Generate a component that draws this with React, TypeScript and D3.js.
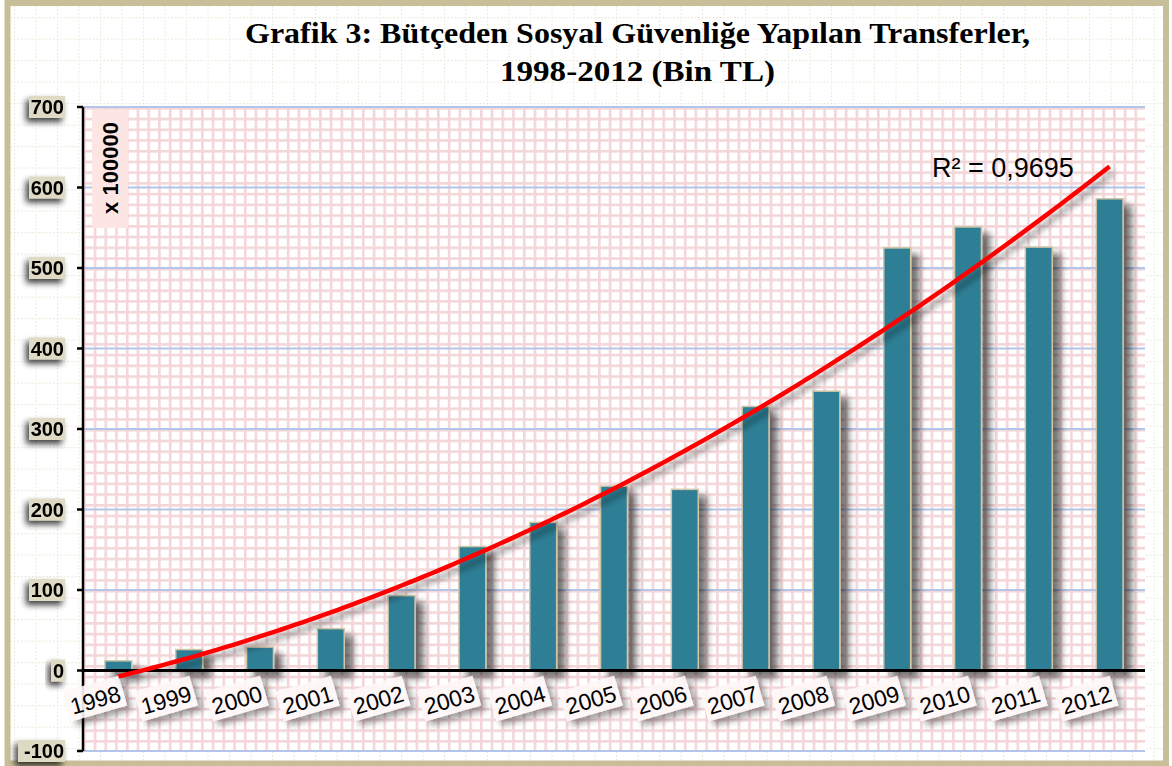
import * as d3 from "d3";

const years = ["1998", "1999", "2000", "2001", "2002", "2003", "2004", "2005", "2006", "2007", "2008", "2009", "2010", "2011", "2012"];
const transfers = [12, 26, 29, 52, 93, 154, 184, 229, 225, 328, 347, 525, 551, 526, 586];
const yTicks = [-100, 0, 100, 200, 300, 400, 500, 600, 700];
const titleLines = ["Grafik 3: Bütçeden Sosyal Güvenliğe Yapılan Transferler,", "1998-2012  (Bin TL)"];
const r2Label = "R² = 0,9695";
const unitLabel = "x 100000";

const W = 1172;
const H = 766;
const plot = { left: 83, right: 1145, top: 107, bottom: 751 };

// 2nd order least squares trend (like Excel's polynomial trendline)
function polyfit2(ys: number[]) {
  const s = [0, 0, 0, 0, 0];
  const t = [0, 0, 0];
  ys.forEach((v, i) => {
    const x = i + 1;
    for (let k = 0; k < 5; k++) s[k] += Math.pow(x, k);
    for (let k = 0; k < 3; k++) t[k] += v * Math.pow(x, k);
  });
  const m = [
    [s[0], s[1], s[2], t[0]],
    [s[1], s[2], s[3], t[1]],
    [s[2], s[3], s[4], t[2]],
  ];
  for (let i = 0; i < 3; i++) {
    for (let j = i + 1; j < 3; j++) {
      const f = m[j][i] / m[i][i];
      for (let k = i; k < 4; k++) m[j][k] -= f * m[i][k];
    }
  }
  const c = [0, 0, 0];
  for (let i = 2; i >= 0; i--) {
    let v = m[i][3];
    for (let k = i + 1; k < 3; k++) v -= m[i][k] * c[k];
    c[i] = v / m[i][i];
  }
  return (x: number) => c[0] + c[1] * x + c[2] * x * x;
}

export default function App() {
  const x = d3.scaleBand().domain(years).range([plot.left, plot.right]).paddingInner(0.62).paddingOuter(0.31);
  const y = d3.scaleLinear().domain([-100, 700]).range([plot.bottom, plot.top]);
  const trend = polyfit2(transfers);
  const xi = d3.scaleLinear().domain([1, years.length]).range([
    (x(years[0]) as number) + x.bandwidth() / 2,
    (x(years[years.length - 1]) as number) + x.bandwidth() / 2,
  ]);
  const pts = d3.range(1, years.length + 0.001, 0.1).map((t) => [xi(t), y(trend(t))] as [number, number]);
  const trendPath = d3.line()(pts) || "";

  return (
    <svg width={W} height={H} style={{ position: "absolute", left: 0, top: 0 }} fontFamily="'Liberation Sans', Arial, sans-serif">
      <defs>
        <pattern id="dots" x={14} y={17} width={21.5} height={21.5} patternUnits="userSpaceOnUse">
          <line x1={0} y1={0.5} x2={21.5} y2={0.5} stroke="#e4dfc9" strokeWidth={1.2} strokeDasharray="1.2,2.4" />
          <line x1={0.5} y1={0} x2={0.5} y2={21.5} stroke="#e4dfc9" strokeWidth={1.2} strokeDasharray="1.2,2.4" />
        </pattern>
        <pattern id="pink" x={plot.left} y={plot.top} width={10.73} height={10.73} patternUnits="userSpaceOnUse">
          <rect width={10.73} height={10.73} fill="#ffffff" />
          <rect width={10.73} height={2.6} fill="#f3d6d8" />
          <rect width={2.6} height={10.73} fill="#f3d6d8" />
        </pattern>
        <filter id="shadow" x="-30%" y="-30%" width="180%" height="180%">
          <feGaussianBlur in="SourceAlpha" stdDeviation={3.5} />
          <feOffset dx={8} dy={7} result="b" />
          <feComponentTransfer><feFuncA type="linear" slope={0.55} /></feComponentTransfer>
          <feMerge><feMergeNode /><feMergeNode in="SourceGraphic" /></feMerge>
        </filter>
        <filter id="lshadow" x="-40%" y="-40%" width="180%" height="200%">
          <feGaussianBlur in="SourceAlpha" stdDeviation={3} />
          <feOffset dx={-3} dy={4} result="b" />
          <feComponentTransfer><feFuncA type="linear" slope={0.75} /></feComponentTransfer>
          <feMerge><feMergeNode /><feMergeNode in="SourceGraphic" /></feMerge>
        </filter>
        <filter id="tshadow" x="-30%" y="-30%" width="160%" height="200%">
          <feGaussianBlur in="SourceAlpha" stdDeviation={3} />
          <feOffset dx={4} dy={6} result="b" />
          <feComponentTransfer><feFuncA type="linear" slope={0.4} /></feComponentTransfer>
          <feMerge><feMergeNode /><feMergeNode in="SourceGraphic" /></feMerge>
        </filter>
      </defs>

      <rect width={W} height={H} fill="#ffffff" />
      <rect x={8} y={3} width={1158} height={761} fill="url(#dots)" />
      <rect x={7.5} y={3} width={1158.5} height={760.5} fill="none" stroke="#c8bf98" strokeWidth={6} />

      {/* title */}
      <g fontFamily="'Liberation Serif', 'Times New Roman', serif" fontWeight="bold" fontSize={30} textAnchor="middle" fill="#000" style={{ whiteSpace: "pre" }}>
        <text x={637.5} y={43} textLength={785} lengthAdjust="spacingAndGlyphs">{titleLines[0]}</text>
        <text x={637.5} y={81} textLength={275} lengthAdjust="spacingAndGlyphs">{titleLines[1]}</text>
      </g>

      {/* plot area */}
      <rect x={plot.left} y={plot.top} width={plot.right - plot.left} height={plot.bottom - plot.top} fill="url(#pink)" />
      {yTicks.filter((t) => t !== 0).map((t) => (
        <line key={t} x1={plot.left} x2={plot.right} y1={y(t)} y2={y(t)} stroke="#b3c5e8" strokeWidth={2} />
      ))}

      {/* unit label */}
      <rect x={92} y={110} width={36} height={118} fill="#fde5e4" />
      <text transform={`translate(118,168) rotate(-90)`} textAnchor="middle" fontWeight="bold" fontSize={22}>{unitLabel}</text>

      {/* bars */}
      <g filter="url(#shadow)">
        {transfers.map((v, i) => (
          <rect key={years[i]} x={x(years[i])} y={y(v)} width={x.bandwidth()} height={y(0) - y(v)} fill="#2e7e95" stroke="#cfc7a6" strokeWidth={1.5} />
        ))}
      </g>

      {/* axes */}
      <line x1={plot.left} x2={plot.left} y1={plot.top} y2={plot.bottom} stroke="#000" strokeWidth={2.5} />
      {yTicks.map((t) => (
        <line key={t} x1={plot.left - 6} x2={plot.left} y1={y(t)} y2={y(t)} stroke="#000" strokeWidth={2.5} />
      ))}
      <line x1={plot.left} x2={plot.right} y1={y(0)} y2={y(0)} stroke="#000" strokeWidth={3} />

      {/* y tick labels */}
      {yTicks.map((t) => {
        const w = String(t).length * 11 + 3;
        return (
          <g key={t} filter="url(#lshadow)">
            <rect x={65 - w} y={y(t) - 11} width={w} height={22} fill="#dedac3" />
            <text x={64} y={y(t) + 7} textAnchor="end" fontWeight="bold" fontSize={20}>{t}</text>
          </g>
        );
      })}

      {/* x labels */}
      {years.map((yr) => {
        const cx = (x(yr) as number) + x.bandwidth() / 2 - 23;
        return (
          <g key={yr} transform={`translate(${cx},700) rotate(-16)`}>
            <rect x={-29} y={-17} width={58} height={31} fill="#fff8f8" opacity={0.9} filter="url(#tshadow)" />
            <text x={0} y={8} textAnchor="middle" fontSize={23}>{yr}</text>
          </g>
        );
      })}

      {/* trend */}
      <path d={trendPath} fill="none" stroke="#ff0000" strokeWidth={4.5} filter="url(#tshadow)" />
      <text x={932} y={177} fontSize={27}>{r2Label}</text>
    </svg>
  );
}
